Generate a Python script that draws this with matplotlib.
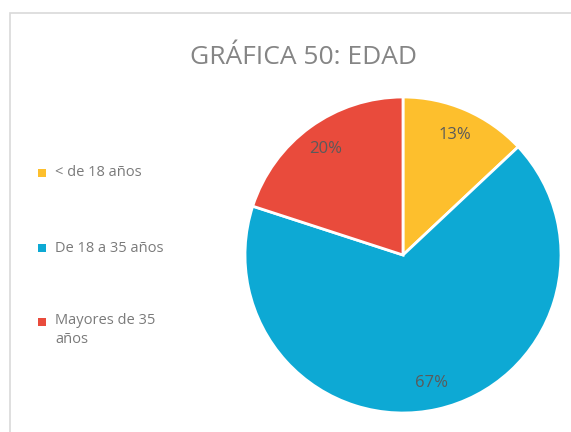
import matplotlib.pyplot as plt
from matplotlib.patches import Rectangle

# data
categories = ['< de 18 años', 'De 18 a 35 años', 'Mayores de 35\naños']
values = [13, 67, 20]
colors = ['#FDBF2D', '#0DA9D4', '#E94B3C']
title = 'GRÁFICA 50: EDAD'

plt.rcParams['font.family'] = ['Open Sans', 'DejaVu Sans']

fig = plt.figure(figsize=(5.71, 4.32), dpi=100)
fig.patch.set_facecolor('white')

# light chart frame
fig.add_artist(Rectangle((10 / 571, -0.01), 1.0, 1 - 13 / 432 + 0.01, transform=fig.transFigure,
                         fill=False, edgecolor='#d9d9d9', linewidth=1.2))

fig.text(303 / 571, 1 - 57 / 432, title, ha='center', va='center', fontsize=19, color='#858585')

# pie, centre ~(403,255) px, radius ~158 px
cx, cy, r = 403 / 571, 1 - 255 / 432, 158
ax = fig.add_axes([cx - r / 571, cy - r / 432, 2 * r / 571, 2 * r / 432])
wedges, texts, autotexts = ax.pie(values, colors=colors, startangle=90, counterclock=False,
                                  autopct='%.0f%%', pctdistance=0.83,
                                  wedgeprops=dict(edgecolor='white', linewidth=2))
for t in autotexts:
    t.set_fontsize(12)
    t.set_color('#5a5a5a')
ax.set_xlim(-1.0, 1.0)
ax.set_ylim(-1.0, 1.0)
ax.set_aspect('equal')
ax.axis('off')

# legend on the left
leg_y = [173, 248, 322]
for i, lab in enumerate(categories):
    y = 1 - leg_y[i] / 432
    fig.add_artist(Rectangle((38 / 571, y - 4 / 432), 8 / 571, 8 / 432, transform=fig.transFigure,
                             facecolor=colors[i], edgecolor='none'))
    if '\n' in lab:
        fig.text(55 / 571, y + 9 / 432, lab, ha='left', va='top', fontsize=10.5, color='#7a7a7a',
                 linespacing=1.35)
    else:
        fig.text(55 / 571, y, lab, ha='left', va='center', fontsize=10.5, color='#7a7a7a')

fig.savefig('out.png', dpi=100)
